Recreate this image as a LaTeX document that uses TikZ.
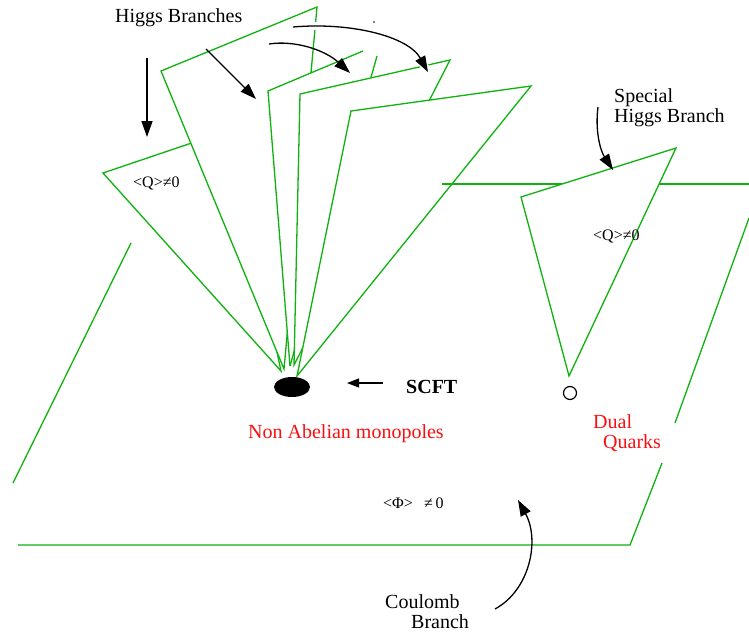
\documentclass[tikz,border=0pt]{standalone}
\usepackage{fontspec}
\setmainfont{Liberation Serif}
\usetikzlibrary{arrows.meta}
\definecolor{sheetgreen}{RGB}{15,178,15}
\definecolor{labelred}{RGB}{250,15,15}

\begin{document}
\begin{tikzpicture}[x=1pt,y=-1pt,
  sheet/.style={draw=sheetgreen, line width=1.3pt, line join=miter},
  sheetfill/.style={fill=white},
  pointer/.style={draw=black, line width=1.3pt, -{Triangle[length=16pt,width=11pt]}},
  smallpointer/.style={draw=black, line width=1.3pt, -{Triangle[length=12pt,width=9pt]}},
  halo/.style={preaction={-, draw=white, line width=8pt}},
  big/.style={font=\fontsize{20}{24}\selectfont},
  bigbold/.style={font=\fontsize{20}{24}\selectfont\bfseries},
  small/.style={font=\fontsize{16}{19}\selectfont},
  every node/.style={inner sep=0pt, anchor=base west}]
\useasboundingbox (0,0) rectangle (749,634);

% Coulomb branch: the large plane, seen in perspective
\draw[sheet] (18,545) -- (630,545) -- (662,463);
\draw[sheet] (675,423) -- (749,218);
\draw[sheet] (131,243) -- (13,483);

% special Higgs branch sheet, in front of the plane
\draw[sheet] (442,184) -- (749,184);
\filldraw[sheet, sheetfill] (521,197) -- (676,148) -- (569,376) -- cycle;
\draw[line width=1.2pt] (570,393) circle [radius=6.5pt];

% fan of Higgs branches meeting at the SCFT point, back to front
\filldraw[sheet, sheetfill] (103,173) -- (230,130) -- (281,371) -- cycle;
\filldraw[sheet, sheetfill] (161,71) -- (317,7) -- (284,369) -- cycle;
\fill[sheetfill] (268,91) -- (363,51) -- (377,56) -- (290,366) -- cycle;
\draw[sheet] (290,366) -- (268,91) -- (363,51);
\draw[sheet] (377,56) -- (290,366);
\filldraw[sheet, sheetfill] (300,94) -- (450,60) -- (294,365) -- cycle;
\filldraw[sheet, sheetfill] (351,111) -- (531,86) -- (297,376) -- cycle;
% the plane's far edge shows just past the last sheet
\draw[sheet] (442,184) -- (460,184);

% SCFT point
\fill (292,387) ellipse [x radius=18pt, y radius=10pt];
\fill (374,22) circle [radius=0.8pt];

% labels
\node[big] (higgs) at (115,23) {Higgs Branches};
\node[big] (special1) at (614,102) {Special};
\node[big] (special2) at (614,122) {Higgs Branch};
\node[small] (qvevA) at (133,187) {<Q>≠0};
\node[small] (qvevB) at (593,240) {<Q>≠0};
\node[bigbold] (scft) at (406,393) {SCFT};
\node[big, text=labelred] (monopoles) at (248,438) {Non Abelian monopoles};
\node[big, text=labelred] (dual) at (593,428) {Dual};
\node[big, text=labelred] (quarks) at (603,448) {Quarks};
\node[small] (phivev) at (383,508) {<Φ>\hspace{0.7em}≠\,0};
\node[big] (coulomb) at (385,608) {Coulomb};
\node[big] (branch) at (411,628) {Branch};

% arrow end points
\coordinate (hA0) at (147,58);   \coordinate (hA1) at (147,137);
\coordinate (hB0) at (206,49);   \coordinate (hB1) at (256,99);
\coordinate (hC0) at (269,44);   \coordinate (hC1) at (350,73);
\coordinate (hD0) at (293,27);   \coordinate (hD1) at (428,72);
\coordinate (sp0) at (598,107);  \coordinate (sp1) at (613,170);
\coordinate (sc0) at (383,383);  \coordinate (sc1) at (347,383);
\coordinate (cb0) at (495,609);  \coordinate (cb1) at (518,500);

\draw[pointer] (hA0) -- (hA1);
\draw[pointer] (hB0) -- (hB1);
\draw[pointer] (hC0) .. controls (295,40) and (325,50) .. (hC1);
\draw[pointer, halo] (hD0) .. controls (350,22) and (408,36) .. (hD1);
\draw[pointer] (sp0) .. controls (595,130) and (600,150) .. (sp1);
\draw[smallpointer] (sc0) -- (sc1);
\draw[pointer] (cb0) .. controls (530,590) and (540,540) .. (cb1);
\end{tikzpicture}
\end{document}
